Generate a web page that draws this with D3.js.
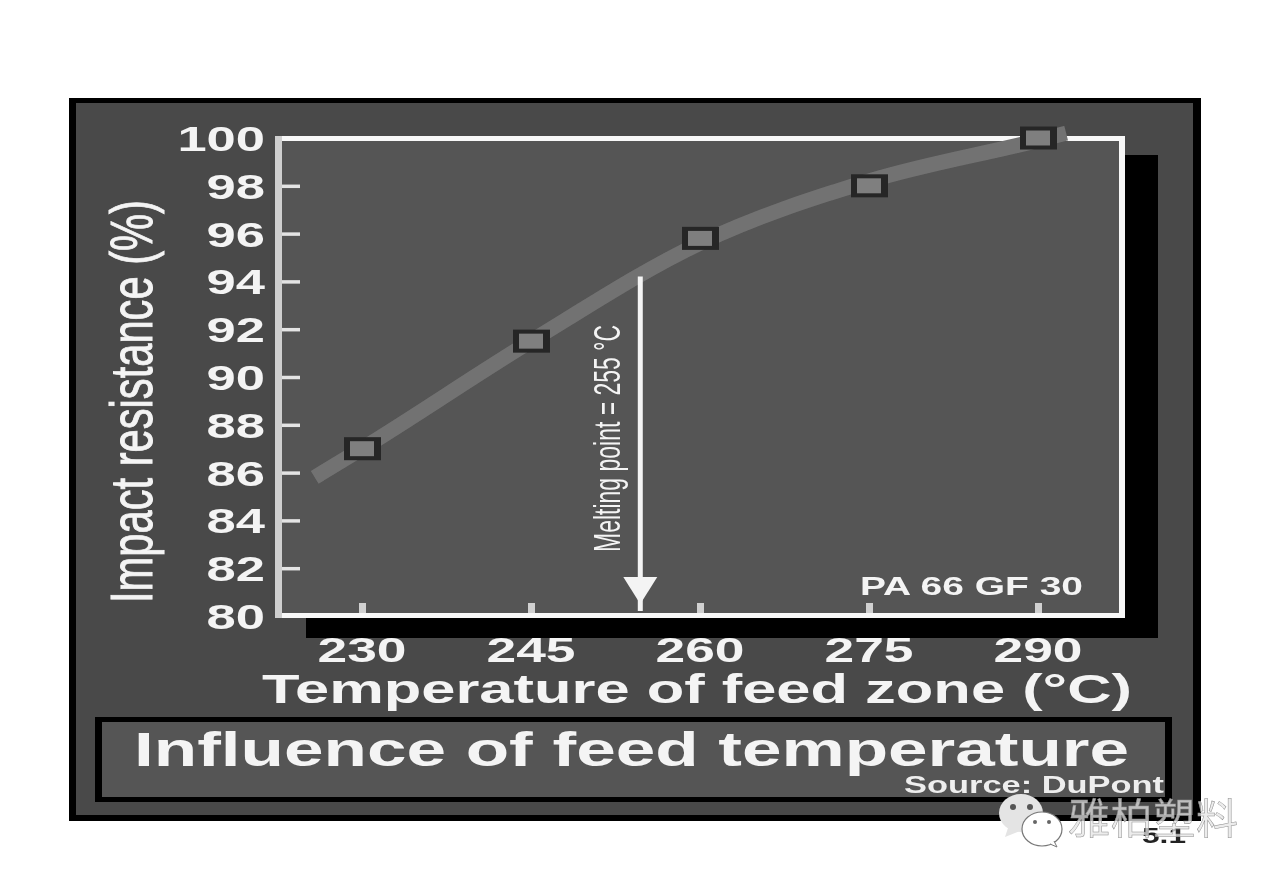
<!DOCTYPE html>
<html><head><meta charset="utf-8">
<script src="https://cdn.jsdelivr.net/npm/d3@7"></script>
<style>html,body{margin:0;padding:0;background:#fff}svg{display:block}text{font-family:"Liberation Sans",Arial,sans-serif}</style>
</head><body><div id="c"></div>
<script>
const temperatures=[230,245,260,275,290];
const impact=[87,91.5,95.8,98,100];
const curveTemps=[225.8,230,245,260,275,290,292.5];
const curveValues=[85.8,87,91.5,95.6,98.2,99.9,100.2];
const yTicks=[80,82,84,86,88,90,92,94,96,98,100];
const title="Influence of feed temperature";
const source="Source: DuPont";
const xLabel="Temperature of feed zone (°C)";
const yLabel="Impact resistance (%)";
const melting="Melting point = 255 °C";
const meltingTemp=254.7, meltingTop=94.2;
const seriesLabel="PA 66 GF 30";
const pageNo="5.1";
const brand="雅柏塑料";

const svg=d3.select("#c").append("svg").attr("width",1280).attr("height",886);
svg.append("defs").append("filter").attr("id","soft").append("feGaussianBlur").attr("stdDeviation",0.65);
const g=svg.append("g").attr("filter","url(#soft)");

const x=d3.scaleLinear().domain([230,290]).range([362,1038]);
const y=d3.scaleLinear().domain([80,100]).range([616,138]);
const white="#f4f4f4";

// outer panel
g.append("rect").attr("x",69).attr("y",98).attr("width",1132).attr("height",723).attr("fill","#000");
g.append("rect").attr("x",76).attr("y",103).attr("width",1117).attr("height",712).attr("fill","#4a4a4a");
// shadow
g.append("rect").attr("x",306).attr("y",155).attr("width",852).attr("height",483).attr("fill","#000");
// plot frame
g.append("rect").attr("x",275).attr("y",136).attr("width",850).attr("height",482).attr("fill","#f8f8f8");
g.append("rect").attr("x",275).attr("y",136).attr("width",7).attr("height",482).attr("fill","#cfcfcf");
g.append("rect").attr("x",282).attr("y",141).attr("width",837).attr("height",472).attr("fill","#545454");

const yAxis=g.append("g").attr("transform","translate(282,0)").call(d3.axisRight(y).tickValues(yTicks.slice(1,-1)).tickSize(18).tickFormat(""));
yAxis.select(".domain").remove();
yAxis.selectAll("line").attr("stroke","#e4e4e4").attr("stroke-width",3.5);
const xAxis=g.append("g").attr("transform","translate(0,613)").call(d3.axisTop(x).tickValues(temperatures).tickSize(10).tickFormat(""));
xAxis.select(".domain").remove();
xAxis.selectAll("line").attr("stroke","#d0d0d0").attr("stroke-width",7);

yTicks.forEach(v=>{
  const s=String(v);
  g.append("text").attr("x",265).attr("y",y(v)+13).attr("text-anchor","end").attr("font-size",35).attr("font-weight","bold").attr("fill",white)
   .attr("textLength",s.length*29.2).attr("lengthAdjust","spacingAndGlyphs").text(s);
});
temperatures.forEach(v=>{
  g.append("text").attr("x",x(v)).attr("y",662).attr("text-anchor","middle").attr("font-size",35).attr("font-weight","bold").attr("fill",white)
   .attr("textLength",89).attr("lengthAdjust","spacingAndGlyphs").text(v);
});

const line=d3.line().x(d=>x(d[0])).y(d=>y(d[1])).curve(d3.curveMonotoneX);
g.append("path").datum(d3.zip(curveTemps,curveValues)).attr("d",line).attr("fill","none").attr("stroke","#727272").attr("stroke-width",15);

const pts=d3.zip(temperatures,impact);
g.selectAll("rect.mo").data(pts).join("rect").attr("class","mo")
 .attr("x",d=>x(d[0])-18).attr("y",d=>y(d[1])-11.5).attr("width",37).attr("height",23).attr("fill","#252525");
g.selectAll("rect.mi").data(pts).join("rect").attr("class","mi")
 .attr("x",d=>x(d[0])-12).attr("y",d=>y(d[1])-7.5).attr("width",24).attr("height",15).attr("fill","#7f7f7f");

const mx=x(meltingTemp);
g.append("line").attr("x1",mx).attr("x2",mx).attr("y1",y(meltingTop)).attr("y2",611).attr("stroke",white).attr("stroke-width",5);
g.append("path").attr("d",d3.line()([[mx-17,577],[mx+17,577],[mx,604]])).attr("fill",white);
g.append("text").attr("transform",`translate(620,552) rotate(-90)`).attr("font-size",36).attr("fill",white)
 .attr("textLength",227).attr("lengthAdjust","spacingAndGlyphs").text(melting);

g.append("text").attr("x",860).attr("y",595).attr("font-size",26).attr("font-weight","bold").attr("fill",white)
 .attr("textLength",223).attr("lengthAdjust","spacingAndGlyphs").text(seriesLabel);
g.append("text").attr("x",262).attr("y",703).attr("font-size",40).attr("font-weight","bold").attr("fill",white)
 .attr("textLength",870).attr("lengthAdjust","spacingAndGlyphs").text(xLabel);
g.append("text").attr("transform","translate(152,603) rotate(-90)").attr("font-size",60).attr("fill",white).attr("stroke",white).attr("stroke-width",0.9)
 .attr("textLength",403).attr("lengthAdjust","spacingAndGlyphs").text(yLabel);

// title box
g.append("rect").attr("x",95).attr("y",717).attr("width",1077).attr("height",85).attr("fill","#000");
g.append("rect").attr("x",102).attr("y",722).attr("width",1063).attr("height",75).attr("fill","#555");
g.append("text").attr("x",134).attr("y",766).attr("font-size",48).attr("font-weight","bold").attr("fill",white)
 .attr("textLength",995).attr("lengthAdjust","spacingAndGlyphs").text(title);
g.append("text").attr("x",904).attr("y",793).attr("font-size",23).attr("font-weight","bold").attr("fill","#eee")
 .attr("textLength",260).attr("lengthAdjust","spacingAndGlyphs").text(source);
g.append("text").attr("x",1142).attr("y",843).attr("font-size",22).attr("font-weight","bold").attr("fill","#222")
 .attr("textLength",44).attr("lengthAdjust","spacingAndGlyphs").text(pageNo);

// watermark
const wm=svg.append("g");
wm.append("ellipse").attr("cx",1021).attr("cy",813).attr("rx",22).attr("ry",19).attr("fill","#e4e4e4");
wm.append("path").attr("d","M1008 828 L1005 837 L1020 831 Z").attr("fill","#e4e4e4");
wm.append("circle").attr("cx",1013).attr("cy",807).attr("r",3).attr("fill","#555");
wm.append("circle").attr("cx",1030).attr("cy",807).attr("r",3).attr("fill","#555");
wm.append("ellipse").attr("cx",1042).attr("cy",829).attr("rx",20).attr("ry",17).attr("fill","#fff").attr("stroke","#777").attr("stroke-width",1.2);
wm.append("path").attr("d","M1050 844 L1057 847 L1054 841").attr("fill","#fff").attr("stroke","#777").attr("stroke-width",1);
wm.append("circle").attr("cx",1035).attr("cy",822).attr("r",2).attr("fill","#666");
wm.append("circle").attr("cx",1049).attr("cy",822).attr("r",2).attr("fill","#666");
wm.append("text").attr("x",1068).attr("y",834).attr("font-size",42).attr("fill","#e6e6e6").attr("fill-opacity",0.75).attr("stroke","#8f8f8f").attr("stroke-width",0.5)
 .style("font-family","'Noto Sans CJK SC'").attr("textLength",170).text(brand);
</script></body></html>
